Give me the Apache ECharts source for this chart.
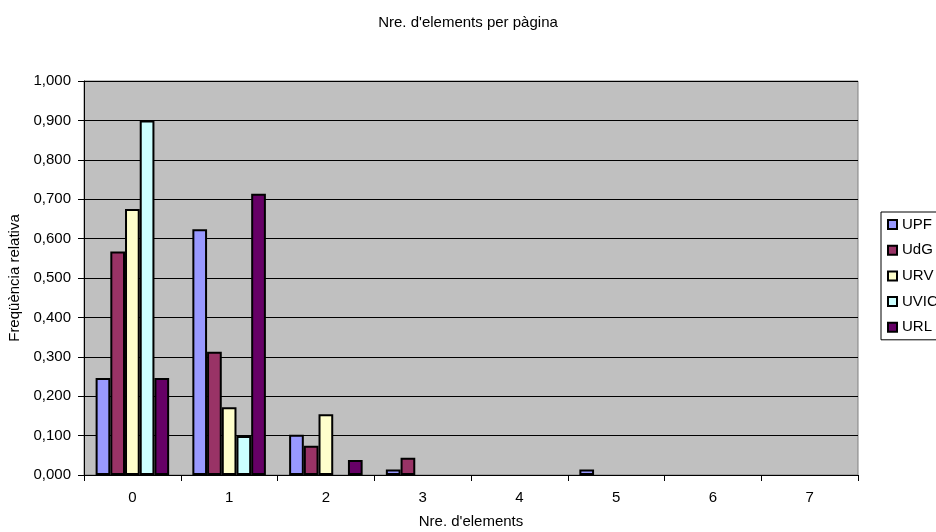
<!DOCTYPE html>
<html><head><meta charset="utf-8">
<script src="https://cdn.jsdelivr.net/npm/echarts@6/dist/echarts.min.js"></script>
<style>html,body{margin:0;padding:0;background:#fff}#c{width:936px;height:532px}</style>
</head><body><div id="c"></div>
<script>
const categories = ['0','1','2','3','4','5','6','7'];
const UPF  = [0.246, 0.624, 0.102, 0.014, 0, 0.014, 0, 0];
const UdG  = [0.567, 0.313, 0.074, 0.044, 0, 0, 0, 0];
const URV  = [0.675, 0.172, 0.154, 0, 0, 0, 0, 0];
const UVIC = [0.900, 0.099, 0, 0, 0, 0, 0, 0];
const URL  = [0.246, 0.714, 0.038, 0, 0, 0, 0, 0];
const seriesNames = ['UPF','UdG','URV','UVIC','URL'];
const seriesData = [UPF, UdG, URV, UVIC, URL];
const colors = ['#9999FF','#993366','#FFFFCC','#CCFFFF','#660066'];

const font = 'Liberation Sans, Arial, sans-serif';
const chart = echarts.init(document.getElementById('c'));
chart.setOption({
  animation: false,
  textStyle: { fontFamily: font },
  title: { text: "Nre. d'elements per pàgina", left: 'center', top: 10,
    textStyle: { fontSize: 15, fontWeight: 'normal', color: '#000', fontFamily: font } },
  legend: {
    orient: 'vertical', left: 881, top: 212, right: 0,
    borderColor: '#000', borderWidth: 1, padding: [5, 20, 5, 6],
    itemWidth: 9, itemHeight: 9, itemGap: 10.7,
    textStyle: { fontSize: 15, color: '#000', fontFamily: font },
    data: seriesNames.map((n, i) => ({ name: n, icon: 'rect',
      itemStyle: { color: colors[i], borderColor: '#000', borderWidth: 2 } }))
  },
  grid: { left: 84, right: 78, top: 81, bottom: 57, show: true, containLabel: false,
    outerBoundsMode: 'none',
    backgroundColor: '#C0C0C0', borderColor: '#808080', borderWidth: 1 },
  xAxis: {
    type: 'category', data: categories,
    name: "Nre. d'elements", nameLocation: 'middle', nameGap: 39,
    nameTextStyle: { fontSize: 15, color: '#000', fontFamily: font },
    axisLine: { lineStyle: { color: '#000' } },
    axisTick: { show: true, alignWithLabel: false, length: 6, lineStyle: { color: '#000' } },
    axisLabel: { fontSize: 15, color: '#000', margin: 15, fontFamily: font }
  },
  yAxis: {
    type: 'value', min: 0, max: 1, interval: 0.1,
    name: 'Freqüència relativa', nameLocation: 'middle', nameGap: 62, nameRotate: 90,
    nameTextStyle: { fontSize: 15, color: '#000', fontFamily: font },
    axisLine: { show: true, lineStyle: { color: '#000' } },
    axisTick: { show: true, length: 6, lineStyle: { color: '#000' } },
    axisLabel: { fontSize: 15, color: '#000', margin: 13, fontFamily: font,
      formatter: v => v.toFixed(3).replace('.', ',') },
    splitLine: { show: true, lineStyle: { color: '#000', width: 1 } }
  },
  series: seriesNames.map((n, i) => ({
    name: n, type: 'bar', data: seriesData[i].map(v => v === 0 ? '-' : v),
    barGap: '0%', barCategoryGap: '24%',
    itemStyle: { color: colors[i], borderColor: '#000', borderWidth: 2 }
  }))
});
</script></body></html>
